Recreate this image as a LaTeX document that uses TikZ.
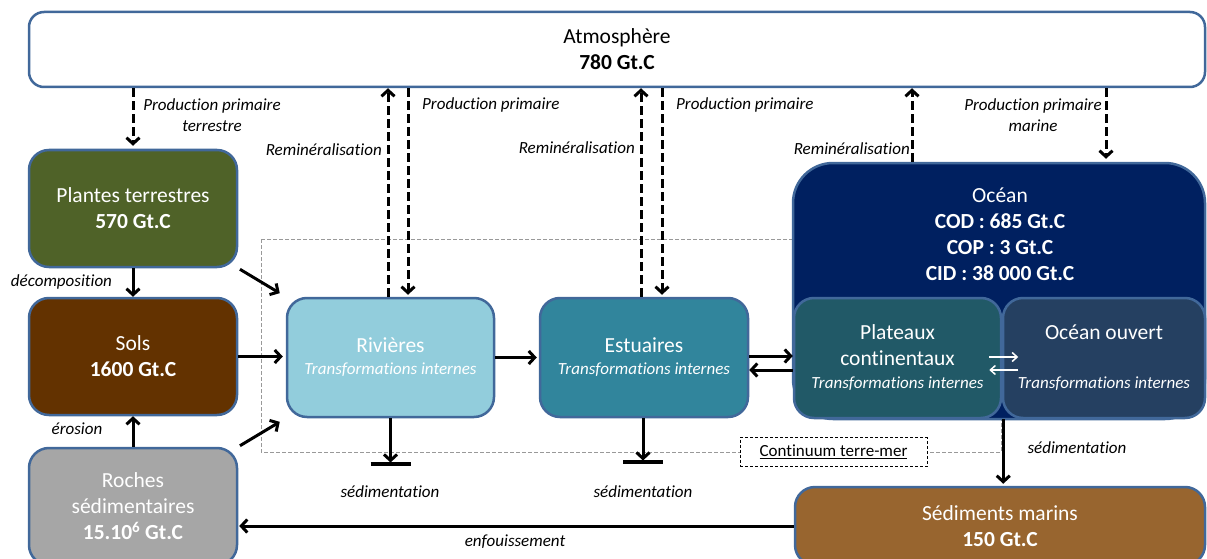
\documentclass[tikz,border=0pt]{standalone}
\usepackage{fontspec}
\setmainfont{Carlito}[Ligatures=NoCommon]
\usetikzlibrary{arrows.meta}

% Colours of the reservoirs
\definecolor{boxline}{HTML}{41689A}
\definecolor{plantfill}{HTML}{4F6228}
\definecolor{solfill}{HTML}{633200}
\definecolor{rochefill}{HTML}{A6A6A6}
\definecolor{rivfill}{HTML}{92CDDC}
\definecolor{estfill}{HTML}{31859C}
\definecolor{oceanfill}{HTML}{002060}
\definecolor{platfill}{HTML}{215967}
\definecolor{ouvfill}{HTML}{254061}
\definecolor{sedfill}{HTML}{98652F}
\definecolor{contgrey}{HTML}{999999}

\newcommand\boxfont{\fontsize{21.5}{26}\selectfont}
\newcommand\smallit{\fontsize{17}{21}\selectfont\itshape}

\begin{document}
\begin{tikzpicture}[x=1pt,y=-1pt,
  box/.style={draw=boxline, line width=2.5pt, rounded corners=20pt,
    inner sep=0pt, text=white, align=center, font=\boxfont},
  lbl/.style={inner sep=0pt, align=center, font=\smallit},
  arr/.style={line width=3pt, -{Straight Barb[length=6pt,width=13pt]}},
  darr/.style={arr, dash pattern=on 9pt off 4pt},
  warr/.style={white, line width=1.5pt, -{Straight Barb[length=5pt,width=9pt]}},
  bar/.style={line width=4pt}]

  % Page size
  \useasboundingbox (0,0) rectangle (1207,559);

  % Dashed frame of the land-sea continuum
  \draw[contgrey, line width=0.8pt, dash pattern=on 4pt off 2pt]
    (261,239) rectangle (1001,452);
  \node[draw, dash pattern=on 3pt off 2pt, line width=1pt, fill=white,
    inner sep=0pt, minimum width=187pt, minimum height=29pt,
    font=\fontsize{17}{21}\selectfont] (cont) at (833.5,452)
    {\underline{Continuum terre-mer}};

  % Atmosphere
  \node[box, fill=white, text=black, rounded corners=15pt,
    minimum width=1176pt, minimum height=75pt] (atm) at (617,49.5)
    {Atmosphère\\\textbf{780 Gt.C}};

  % Land reservoirs
  \node[box, fill=plantfill, minimum width=208pt, minimum height=117pt]
    (plantes) at (133,208.5) {Plantes terrestres\\\textbf{570 Gt.C}};
  \node[box, fill=solfill, minimum width=208pt, minimum height=117pt]
    (sols) at (133,356.5) {Sols\\\textbf{1600 Gt.C}};
  \node[box, fill=rochefill, minimum width=208pt, minimum height=117pt]
    (roches) at (133,506.5)
    {Roches\\sédimentaires\\\textbf{15.10\textsuperscript{6} Gt.C}};

  % Rivers and estuaries
  \node[box, fill=rivfill, minimum width=207pt, minimum height=119pt]
    (rivieres) at (390.5,357.5)
    {Rivières\\[-4pt]{\smallit Transformations internes}};
  \node[box, fill=estfill, minimum width=208pt, minimum height=119pt]
    (estuaires) at (644,357.5)
    {Estuaires\\[-4pt]{\smallit Transformations internes}};

  % Ocean and its two parts
  \node[box, fill=oceanfill, rounded corners=40pt,
    minimum width=412pt, minimum height=256pt] (ocean) at (999,291) {};
  \node[inner sep=0pt, text=white, align=center, font=\boxfont]
    (oceantxt) at (1000,234)
    {Océan\\\textbf{COD : 685 Gt.C}\\\textbf{COP : 3 Gt.C}\\\textbf{CID : 38 000 Gt.C}};
  \node[box, fill=platfill, minimum width=207pt, minimum height=120pt]
    (plateaux) at (897.5,358)
    {Plateaux\\continentaux\\[-3pt]{\smallit Transformations internes}};
  \node[box, fill=ouvfill, minimum width=202pt, minimum height=120pt]
    (ouvert) at (1104,358)
    {Océan ouvert\\[23pt]{\smallit Transformations internes}};

  % Marine sediments
  \node[box, fill=sedfill, minimum width=410pt, minimum height=78pt]
    (sediments) at (1000,526) {Sédiments marins\\\textbf{150 Gt.C}};

  % Exchanges with the atmosphere
  \draw[darr, shorten >=3pt] (plantes.north |- atm.south) -- (plantes.north);
  \draw[darr] (388,0 |- rivieres.north) -- (388,0 |- atm.south);
  \draw[darr, shorten >=2pt] (408,0 |- atm.south) -- (408,0 |- rivieres.north);
  \draw[darr] (641,0 |- estuaires.north) -- (641,0 |- atm.south);
  \draw[darr, shorten >=2pt] (662,0 |- atm.south) -- (662,0 |- estuaires.north);
  \draw[darr] (912,0 |- ocean.north) -- (912,0 |- atm.south);
  \draw[darr, shorten >=3pt] (1106,0 |- atm.south) -- (1106,0 |- ocean.north);

  % Land fluxes
  \draw[arr] (plantes.south) -- (sols.north);
  \draw[arr] (roches.north) -- (sols.south);
  \draw[arr, shorten >=7pt, shorten <=2pt] (plantes.south east) -- (rivieres.north west);
  \draw[arr, shorten >=3pt] (sols.east) -- (sols.east -| rivieres.west);
  \draw[arr, shorten >=7pt, shorten <=2pt] (roches.north east) -- (rivieres.south west);
  \draw[arr, shorten >=2pt] (rivieres.east) -- (rivieres.east -| estuaires.west);

  % Estuaries and shelves
  \draw[arr] ([yshift=1.5pt]estuaires.east) -- ([yshift=1.5pt]estuaires.east -| plateaux.west);
  \draw[arr] ([yshift=-12.5pt]estuaires.east -| plateaux.west) -- ([yshift=-12.5pt]estuaires.east);
  \draw[warr] ([xshift=-13pt,yshift=1pt]plateaux.east) -- ([xshift=16pt,yshift=1pt]plateaux.east);
  \draw[warr] ([xshift=16pt,yshift=-12pt]plateaux.east) -- ([xshift=-13pt,yshift=-12pt]plateaux.east);

  % Sedimentation
  \coordinate (rivsed) at (390.5,464);
  \coordinate (estsed) at (643,462);
  \draw[arr] (rivieres.south) -- ([yshift=1.5pt]rivsed);
  \draw[bar] ([xshift=-20pt]rivsed) -- ([xshift=20pt]rivsed);
  \draw[arr] (estsed |- estuaires.south) -- ([yshift=1.5pt]estsed);
  \draw[bar] ([xshift=-20pt]estsed) -- ([xshift=20pt]estsed);
  \draw[arr, shorten >=2pt] ([xshift=1pt]plateaux.south east) -- ([xshift=1pt]plateaux.south east |- sediments.north);
  \draw[arr, shorten >=1pt] (sediments.west) -- (sediments.west -| roches.east);

  % Flux labels
  \node[lbl] (lbppt) at (212,115) {Production primaire\\terrestre};
  \node[lbl, anchor=east] (lbremriv) at (382,150) {Reminéralisation};
  \node[lbl, anchor=west] (lbppriv) at (422,105) {Production primaire};
  \node[lbl, anchor=east] (lbremest) at (635,148) {Reminéralisation};
  \node[lbl, anchor=west] (lbppest) at (676,105) {Production primaire};
  \node[lbl, anchor=east] (lbremoc) at (910,149) {Reminéralisation};
  \node[lbl] (lbppm) at (1033,115) {Production primaire\\marine};
  \node[lbl] (lbdec) at (61.5,282) {décomposition};
  \node[lbl] (lberos) at (77,429) {érosion};
  \node[lbl] (lbsedriv) at (390,492) {sédimentation};
  \node[lbl] (lbsedest) at (643,492) {sédimentation};
  \node[lbl] (lbsedoc) at (1077,448) {sédimentation};
  \node[lbl] (lbenf) at (515,542) {enfouissement};

\end{tikzpicture}
\end{document}
